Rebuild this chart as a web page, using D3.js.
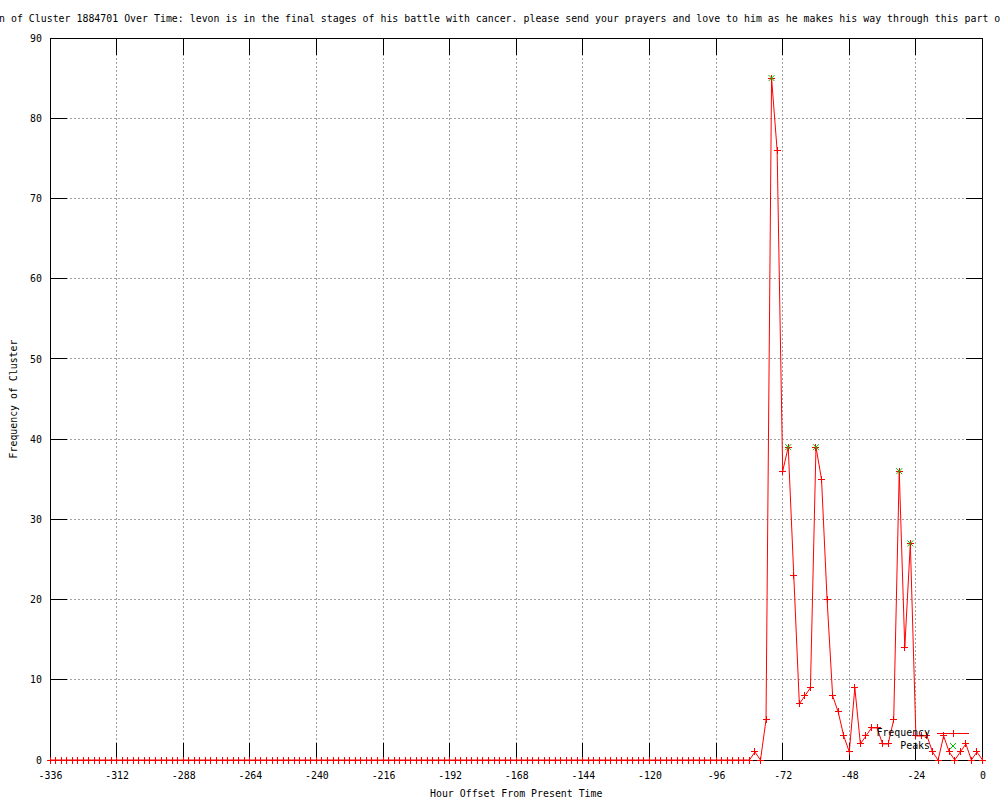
<!DOCTYPE html>
<html><head><meta charset="utf-8">
<script src="https://cdn.jsdelivr.net/npm/d3@7"></script>
<style>
body{margin:0;background:#fff}
svg{display:block}
text{font-family:"DejaVu Sans Mono",monospace;font-size:9.9px;fill:#000}
</style>
</head><body>
<svg id="chart" width="1000" height="800"></svg>
<script>
const titleText = "Frequency Distribution of Cluster 1884701 Over Time: levon is in the final stages of his battle with cancer. please send your prayers and love to him as he makes his way through this part of his life.";
const titleHiddenPrefix = "Frequency Distributio";
const xLabel = "Hour Offset From Present Time";
const yLabel = "Frequency of Cluster";
const xTicks = [-336,-312,-288,-264,-240,-216,-192,-168,-144,-120,-96,-72,-48,-24,0];
const yTicks = [0,10,20,30,40,50,60,70,80,90];
const seriesNames = ["Frequency","Peaks"];

// hour offsets of the frequency samples (every 2 hours)
const hours = d3.range(-336, 1, 2);
// frequency values, -336 ... 0
const frequency = [
 0,0,0,0,0,0,0,0,0,0,0,0,0,0,0,0,0,0,0,0,
 0,0,0,0,0,0,0,0,0,0,0,0,0,0,0,0,0,0,0,0,
 0,0,0,0,0,0,0,0,0,0,0,0,0,0,0,0,0,0,0,0,
 0,0,0,0,0,0,0,0,0,0,0,0,0,0,0,0,0,0,0,0,
 0,0,0,0,0,0,0,0,0,0,0,0,0,0,0,0,0,0,0,0,
 0,0,0,0,0,0,0,0,0,0,0,0,0,0,0,0,0,0,0,0,
 0,0,0,0,0,0,0,
 1,0,5,85,76,36,39,23,7,8,9,39,35,20,8,6,3,1,9,2,3,4,4,2,2,5,36,14,27,3,3,3,1,0,3,1,0,1,2,0,1,0
];
const peakHours = [-76,-70,-60,-30,-26];
const peakValues = [85,39,39,36,27];

const svg = d3.select("#chart");
const L = 50, R = 982.5, T = 38, B = 760;
const x = d3.scaleLinear().domain([-336, 0]).range([L, R]);
const y = d3.scaleLinear().domain([0, 90]).range([B, T]);
const tickLen = 17;
const charW = 5.96;

// grid
const grid = svg.append("g").attr("stroke","#a0a0a0").attr("stroke-dasharray","2,2").attr("shape-rendering","crispEdges");
xTicks.filter(d => d !== -336 && d !== 0).forEach(d => {
  grid.append("line").attr("x1", x(d)).attr("x2", x(d)).attr("y1", T).attr("y2", B);
});
yTicks.filter(d => d !== 0 && d !== 90).forEach(d => {
  grid.append("line").attr("x1", L).attr("x2", R).attr("y1", y(d)).attr("y2", y(d));
});

// ticks (inward, mirrored)
const tk = svg.append("g").attr("stroke","#000").attr("shape-rendering","crispEdges");
xTicks.forEach(d => {
  tk.append("line").attr("x1", x(d)).attr("x2", x(d)).attr("y1", B).attr("y2", B - tickLen);
  tk.append("line").attr("x1", x(d)).attr("x2", x(d)).attr("y1", T).attr("y2", T + tickLen);
});
yTicks.forEach(d => {
  tk.append("line").attr("x1", L).attr("x2", L + tickLen).attr("y1", y(d)).attr("y2", y(d));
  tk.append("line").attr("x1", R).attr("x2", R - tickLen).attr("y1", y(d)).attr("y2", y(d));
});

// axes labels via d3 axes
const xa = svg.append("g").attr("transform", `translate(0,${B})`)
  .call(d3.axisBottom(x).tickValues(xTicks).tickSize(0).tickPadding(12).tickFormat(d => String(d)));
xa.select(".domain").remove();
xa.selectAll("text").attr("font-family", null).attr("font-size", null);
const ya = svg.append("g").attr("transform", `translate(${L},0)`)
  .call(d3.axisLeft(y).tickValues(yTicks).tickSize(0).tickPadding(8).tickFormat(d => String(d)));
ya.select(".domain").remove();
ya.selectAll("text").attr("font-family", null).attr("font-size", null);

// border
svg.append("rect").attr("x", L).attr("y", T).attr("width", R - L).attr("height", B - T)
  .attr("fill","none").attr("stroke","#000").attr("shape-rendering","crispEdges");

// title (wider than the canvas, clipped at both edges like the original)
svg.append("text").attr("y", 22)
  .attr("x", -1 - titleHiddenPrefix.length * charW)
  .attr("textLength", titleText.length * charW)
  .attr("lengthAdjust", "spacing")
  .text(titleText);

// axis titles
svg.append("text").attr("x", (L + R) / 2).attr("y", 797).attr("text-anchor","middle").text(xLabel);
svg.append("text").attr("transform", `translate(17,${(T + B) / 2}) rotate(-90)`).attr("text-anchor","middle").text(yLabel);

// data line
const pts = hours.map((h, i) => [h, frequency[i]]);
svg.append("path").datum(pts)
  .attr("d", d3.line().x(d => x(d[0])).y(d => y(d[1])))
  .attr("fill","none").attr("stroke","#ff0000").attr("stroke-width",1);

const plusPath = "M-3.5,0H3.5M0,-3.5V3.5";
const crossPath = "M-3,-3L3,3M-3,3L3,-3";
svg.append("g").selectAll("path").data(pts).join("path")
  .attr("transform", d => `translate(${x(d[0])},${y(d[1])})`)
  .attr("d", plusPath).attr("stroke","#ff0000").attr("fill","none").attr("shape-rendering","crispEdges");

svg.append("g").selectAll("path").data(peakHours.map((h, i) => [h, peakValues[i]])).join("path")
  .attr("transform", d => `translate(${x(d[0])},${y(d[1])})`)
  .attr("d", crossPath).attr("stroke","#00c000").attr("fill","none");

// legend
const lg = svg.append("g");
lg.append("text").attr("x", 930).attr("y", 733).attr("dy","0.35em").attr("text-anchor","end").text(seriesNames[0]);
lg.append("line").attr("x1", 937).attr("x2", 969).attr("y1", 733.5).attr("y2", 733.5).attr("stroke","#ff0000").attr("shape-rendering","crispEdges");
lg.append("path").attr("transform","translate(953,733)").attr("d", plusPath).attr("stroke","#ff0000").attr("fill","none").attr("shape-rendering","crispEdges");
lg.append("text").attr("x", 930).attr("y", 746).attr("dy","0.35em").attr("text-anchor","end").text(seriesNames[1]);
lg.append("path").attr("transform","translate(953,746)").attr("d", crossPath).attr("stroke","#00c000").attr("fill","none");
</script>
</body></html>
